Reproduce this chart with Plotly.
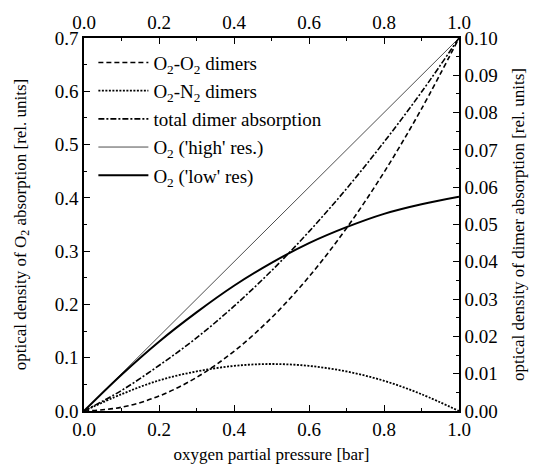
import plotly.graph_objects as go

# oxygen partial pressure [bar]
pressure = [0.0, 0.1, 0.2, 0.3, 0.4, 0.5, 0.6, 0.7, 0.8, 0.9, 1.0]

# dimer absorption (right axis, rel. units)
o2_o2_dimers = [0.0, 0.001, 0.004, 0.009, 0.016, 0.025, 0.036, 0.049, 0.064, 0.081, 0.100]
o2_n2_dimers = [0.0, 0.0045, 0.0082, 0.0106, 0.0121, 0.0126, 0.0121, 0.0106, 0.0081, 0.0045, 0.0]
total_dimers = [0.0, 0.0055, 0.0122, 0.0196, 0.0281, 0.0376, 0.0481, 0.0596, 0.0721, 0.0855, 0.100]

# O2 absorption (left axis, rel. units)
o2_high_res = [0.0, 0.07, 0.14, 0.21, 0.28, 0.35, 0.42, 0.49, 0.56, 0.63, 0.70]
o2_low_res = [0.0, 0.068, 0.130, 0.185, 0.235, 0.278, 0.315, 0.345, 0.370, 0.388, 0.402]

FONT = "Liberation Serif, Times New Roman, serif"

fig = go.Figure()

fig.add_trace(go.Scatter(
    x=pressure, y=o2_o2_dimers, yaxis="y2", mode="lines",
    name="O<sub>2</sub>-O<sub>2</sub> dimers", legendgroup="a",
    line=dict(color="black", width=1.6, dash="5px,3px", shape="spline")))
fig.add_trace(go.Scatter(
    x=pressure, y=o2_n2_dimers, yaxis="y2", mode="lines",
    name="O<sub>2</sub>-N<sub>2</sub> dimers", legendgroup="b",
    line=dict(color="black", width=1.8, dash="2px,1.5px", shape="spline")))
fig.add_trace(go.Scatter(
    x=pressure, y=total_dimers, yaxis="y2", mode="lines",
    name="total dimer absorption", legendgroup="c",
    line=dict(color="black", width=1.6, dash="6px,2px,2px,2px", shape="spline")))
fig.add_trace(go.Scatter(
    x=pressure, y=o2_high_res, mode="lines",
    name="O<sub>2</sub> ('high' res.)", legendgroup="d",
    line=dict(color="black", width=0.7)))
fig.add_trace(go.Scatter(
    x=pressure, y=o2_low_res, mode="lines",
    name="O<sub>2</sub> ('low' res)", legendgroup="e",
    line=dict(color="black", width=2, shape="spline")))

# invisible trace carrying the top x axis
fig.add_trace(go.Scatter(x=[0, 1], y=[0, 0], xaxis="x2", mode="lines",
                         line=dict(width=0), showlegend=False, hoverinfo="skip"))

tick_font = dict(family=FONT, size=19, color="black")
title_font = dict(family=FONT, size=17, color="black")
common = dict(showgrid=False, zeroline=False, showline=True, linecolor="black",
              linewidth=1.5, ticks="inside", ticklen=6, tickwidth=1.2,
              tickcolor="black", tickfont=tick_font, mirror=False,
              automargin=False)

fig.update_layout(
    width=535, height=467,
    margin=dict(l=84, r=76, t=38, b=56),
    paper_bgcolor="white", plot_bgcolor="white",
    font=dict(family=FONT, color="black"),
    xaxis=dict(range=[0, 1], tickmode="linear", tick0=0, dtick=0.2,
               tickformat=".1f",
               minor=dict(ticks="inside", ticklen=3, dtick=0.1, tickcolor="black"),
               title=dict(text="oxygen partial pressure [bar]", font=title_font, standoff=10),
               **common),
    xaxis2=dict(range=[0, 1], overlaying="x", side="top", anchor="y",
                tickmode="linear", tick0=0, dtick=0.2, tickformat=".1f",
                minor=dict(ticks="inside", ticklen=3, dtick=0.1, tickcolor="black"),
                **common),
    yaxis=dict(range=[0, 0.7], tickmode="linear", tick0=0, dtick=0.1,
               tickformat=".1f",
               minor=dict(ticks="inside", ticklen=3, dtick=0.05, tickcolor="black"),
               title=dict(text="optical density of O<sub>2</sub> absorption [rel. units]",
                          font=title_font, standoff=24),
               **common),
    yaxis2=dict(range=[0, 0.1], overlaying="y", side="right", anchor="x",
                tickmode="linear", tick0=0, dtick=0.01, tickformat=".2f",
                minor=dict(ticks="inside", ticklen=3, dtick=0.005, tickcolor="black"),
                title=dict(text="optical density of dimer absorption [rel. units]",
                           font=title_font, standoff=15),
                **common),
    legend=dict(x=0.025, y=0.985, xanchor="left", yanchor="top",
                bgcolor="rgba(0,0,0,0)", borderwidth=0,
                font=dict(family=FONT, size=19, color="black"),
                tracegroupgap=0.5, itemwidth=50),
    showlegend=True,
)

fig.write_html("out.html")
